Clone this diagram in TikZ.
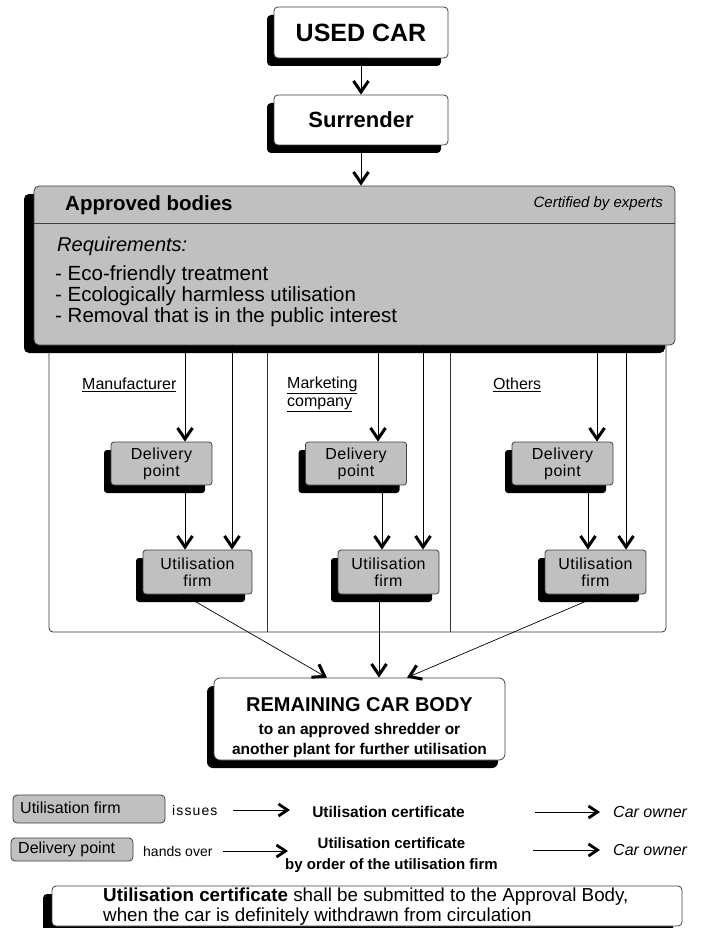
\documentclass[tikz,border=0pt]{standalone}
\usepackage{fontspec}
\setmainfont{Liberation Sans}
\usetikzlibrary{arrows.meta,shadows,calc}
\definecolor{boxgray}{RGB}{192,192,192}
\definecolor{edgegray}{RGB}{64,64,64}
\newcommand{\fsz}[2]{\fontsize{#1}{#2}\selectfont}
\begin{document}
\begin{tikzpicture}[x=1pt,y=-1pt,
  shad/.style={drop shadow={shadow xshift=-7pt,shadow yshift=-8pt,fill=black,opacity=1}},
  bigshad/.style={drop shadow={shadow xshift=-10pt,shadow yshift=-8pt,fill=black,opacity=1}},
  noteshad/.style={drop shadow={shadow xshift=-9pt,shadow yshift=-8pt,fill=black,opacity=1}},
  graybox/.style={draw=edgegray,fill=boxgray,rounded corners=3pt,line width=0.8pt,inner sep=0pt,align=center},
  whitebox/.style={draw=edgegray,fill=white,rounded corners=4pt,line width=0.8pt,inner sep=0pt,align=center},
  smallbox/.style={graybox,shad,minimum width=101pt,minimum height=43pt,font=\fsz{16}{17}\addfontfeatures{LetterSpace=3}},
  arr/.style={line width=0.7pt,-{Straight Barb[length=11pt,width=15pt,line width=3pt]}},
  arrsmall/.style={line width=0.7pt,-{Straight Barb[length=9pt,width=12pt,line width=2.8pt]}},
  txt/.style={inner sep=0pt,align=left},
  frameline/.style={line width=0.8pt,draw=black!80}
]
\useasboundingbox[fill=white] (0,0) rectangle (705,928);

% frame below approved bodies
\draw[frameline,rounded corners=4pt] (49,345) -- (49,632) -- (666,632) -- (666,345);
\draw[frameline] (267,345) -- (267,632);
\draw[frameline] (450,345) -- (450,632);

% top boxes
\node[whitebox,shad,minimum width=174pt,minimum height=51pt,font=\fsz{25}{28}\bfseries] (used) at (361,32.5) {USED CAR};
\node[whitebox,shad,minimum width=174pt,minimum height=50pt,font=\fsz{22}{26}\bfseries] (surr) at (361,120) {Surrender};

% approved bodies
\node[graybox,bigshad,rounded corners=5pt,minimum width=641pt,minimum height=159pt] (appr) at (354.5,265.5) {};
\coordinate (hdr) at (0,223);
\draw[edgegray,line width=0.8pt] (appr.west |- hdr) -- (appr.east |- hdr);
\node[txt,anchor=west,font=\fsz{20.5}{24}\bfseries] (apprt) at (65,205) {Approved bodies};
\node[txt,anchor=east,font=\fsz{15}{18}\itshape] (cert) at (663,204) {Certified by experts};
\node[txt,anchor=west,font=\fsz{20}{24}\itshape] (req) at (57,246) {Requirements:};
\node[txt,anchor=west,font=\fsz{20.5}{24}] (r1) at (55,275) {- Eco-friendly treatment};
\node[txt,anchor=west,font=\fsz{20.5}{24}] (r2) at (55,296) {- Ecologically harmless utilisation};
\node[txt,anchor=west,font=\fsz{20.5}{24}] (r3) at (55,317) {- Removal that is in the public interest};

\draw[arr] (used) -- (surr);
\draw[arr] (surr) -- (surr |- appr.north);

% column labels
\node[txt,anchor=west,font=\fsz{16}{18}] (lman) at (82,385) {\underline{Manufacturer}};
\node[txt,anchor=north west,font=\fsz{16}{18}] (lmkt) at (287,377) {\underline{Marketing}\\\underline{company}};
\node[txt,anchor=west,font=\fsz{16}{18}] (loth) at (493,385) {\underline{Others}};

% delivery points and utilisation firms
\node[smallbox] (d1) at (161.5,463.5) {Delivery\\point};
\node[smallbox] (d2) at (356,463.5) {Delivery\\point};
\node[smallbox] (d3) at (562.5,463.5) {Delivery\\point};
\node[smallbox,minimum width=109pt,minimum height=44pt] (u1) at (197.5,572) {Utilisation\\firm};
\node[smallbox,minimum height=44pt] (u2) at (388.5,572) {Utilisation\\firm};
\node[smallbox,minimum height=44pt] (u3) at (595.5,572) {Utilisation\\firm};

\coordinate (c1a) at (185,0);
\coordinate (c1b) at (232,0);
\coordinate (c2a) at (378,0);
\coordinate (c2b) at (423,0);
\coordinate (c2c) at (382,0);
\coordinate (c3a) at (597,0);
\coordinate (c3b) at (626,0);
\coordinate (c3c) at (588,0);

\draw[arr] (appr.south -| c1a) -- (c1a |- d1.north);
\draw[arr] (appr.south -| c1b) -- (c1b |- u1.north);
\draw[arr] (d1.south -| c1a) -- (c1a |- u1.north);
\draw[arr] (appr.south -| c2a) -- (c2a |- d2.north);
\draw[arr] (appr.south -| c2b) -- (c2b |- u2.north);
\draw[arr] (d2.south -| c2c) -- (c2c |- u2.north);
\draw[arr] (appr.south -| c3a) -- (c3a |- d3.north);
\draw[arr] (appr.south -| c3b) -- (c3b |- u3.north);
\draw[arr] (d3.south -| c3c) -- (c3c |- u3.north);

% remaining car body
\node[whitebox,shad,rounded corners=6pt,minimum width=291pt,minimum height=82pt] (rem) at (359.5,719) {};
\node[inner sep=0pt,font=\fsz{20}{22}\bfseries] (remt) at (359.5,705) {REMAINING CAR BODY};
\node[inner sep=0pt,align=center,font=\fsz{15.5}{20}\bfseries] (rems) at (359.5,740) {to an approved shredder or\\another plant for further utilisation};

\draw[arr] ([xshift=-14.5pt]u1.south) -- ([xshift=-32.5pt]rem.north);
\draw[arr] ([xshift=-9.5pt]u2.south) -- ([xshift=19.5pt]rem.north);
\draw[arr] ([xshift=6.5pt]u3.south) -- ([xshift=47.5pt]rem.north);

% legend
\node[graybox,rounded corners=4pt,minimum width=152pt,minimum height=28pt] (lu) at (89,809) {};
\node[txt,anchor=west,font=\fsz{16}{18}] (lut) at (20,808) {Utilisation firm};
\node[txt,anchor=west,font=\fsz{14}{16}\addfontfeatures{LetterSpace=8}] (iss) at (172,810) {issues};
\coordinate (a1s) at (233,810);
\coordinate (a1e) at (290,810);
\draw[arrsmall] (a1s) -- (a1e);
\node[txt,font=\fsz{15.5}{18}\bfseries] (uc1) at (388.5,812) {Utilisation certificate};
\node[txt,anchor=west,font=\fsz{16}{18}\itshape] (co1) at (613,812) {Car owner};
\coordinate (a2s) at (535,812);
\draw[arrsmall] (a2s) -- ([xshift=-13pt]co1.west);

\node[graybox,rounded corners=4pt,minimum width=122pt,minimum height=23pt] (ld) at (72,849.5) {};
\node[txt,anchor=west,font=\fsz{16}{18}] (ldt) at (18,849) {Delivery point};
\node[txt,anchor=west,font=\fsz{14}{16}] (hov) at (143,851) {hands over};
\node[txt,align=center,font=\fsz{15}{21}\bfseries] (uc2) at (391.5,855.5) {Utilisation certificate\\by order of the utilisation firm};
\coordinate (a3s) at (223,851);
\coordinate (a3e) at (288,851);
\draw[arrsmall] (a3s) -- (a3e);
\node[txt,anchor=west,font=\fsz{16}{18}\itshape] (co2) at (613,850) {Car owner};
\coordinate (a4s) at (533,850);
\draw[arrsmall] (a4s) -- ([xshift=-13pt]co2.west);

% bottom note
\node[whitebox,noteshad,rounded corners=4pt,minimum width=630pt,minimum height=40pt] (note) at (367,906) {};
\node[txt,anchor=west,font=\fsz{18.8}{20}] (notet) at (103,907) {\textbf{Utilisation certificate} shall be submitted to the Approval Body,\\when the car is definitely withdrawn from circulation};
\end{tikzpicture}
\end{document}
